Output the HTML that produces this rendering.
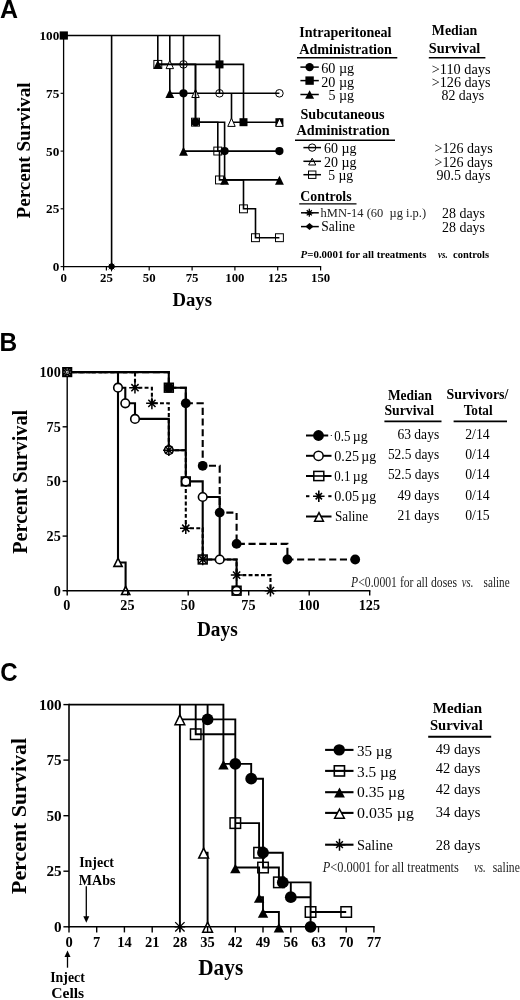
<!DOCTYPE html>
<html><head><meta charset="utf-8"><title>Figure</title>
<style>html,body{margin:0;padding:0;background:#fff}svg{display:block}</style></head><body>
<svg width='520' height='1000' viewBox='0 0 520 1000' font-family='"Liberation Serif", "DejaVu Serif", serif'>
<rect width="520" height="1000" fill="#fff"/>
<text transform='translate(-0.1,17.9) scale(1.02,1.07)' font-size='24.5' font-weight='bold' font-family='"Liberation Sans", "DejaVu Sans", sans-serif'>A</text>
<line x1="63.6" y1="34.8" x2="63.6" y2="267.2" stroke="#000" stroke-width="1.3"/>
<line x1="63.0" y1="266.6" x2="321.2" y2="266.6" stroke="#000" stroke-width="1.3"/>
<line x1="60.6" y1="266.6" x2="63.6" y2="266.6" stroke="#000" stroke-width="1.1"/>
<text x="59.3" y="271.0" font-size="13.2" font-weight="bold" text-anchor="end">0</text>
<line x1="60.6" y1="208.8" x2="63.6" y2="208.8" stroke="#000" stroke-width="1.1"/>
<text x="59.3" y="213.2" font-size="13.2" font-weight="bold" text-anchor="end">25</text>
<line x1="60.6" y1="151.1" x2="63.6" y2="151.1" stroke="#000" stroke-width="1.1"/>
<text x="59.3" y="155.5" font-size="13.2" font-weight="bold" text-anchor="end">50</text>
<line x1="60.6" y1="93.3" x2="63.6" y2="93.3" stroke="#000" stroke-width="1.1"/>
<text x="59.3" y="97.7" font-size="13.2" font-weight="bold" text-anchor="end">75</text>
<line x1="60.6" y1="35.5" x2="63.6" y2="35.5" stroke="#000" stroke-width="1.1"/>
<text x="59.3" y="39.9" font-size="13.2" font-weight="bold" text-anchor="end">100</text>
<line x1="63.6" y1="266.6" x2="63.6" y2="270.4" stroke="#000" stroke-width="1.2"/>
<text x="63.6" y="281.7" font-size="12.8" font-weight="bold" text-anchor="middle">0</text>
<line x1="106.4" y1="266.6" x2="106.4" y2="270.4" stroke="#000" stroke-width="1.2"/>
<text x="106.4" y="281.7" font-size="12.8" font-weight="bold" text-anchor="middle">25</text>
<line x1="149.2" y1="266.6" x2="149.2" y2="270.4" stroke="#000" stroke-width="1.2"/>
<text x="149.2" y="281.7" font-size="12.8" font-weight="bold" text-anchor="middle">50</text>
<line x1="192.1" y1="266.6" x2="192.1" y2="270.4" stroke="#000" stroke-width="1.2"/>
<text x="192.1" y="281.7" font-size="12.8" font-weight="bold" text-anchor="middle">75</text>
<line x1="234.9" y1="266.6" x2="234.9" y2="270.4" stroke="#000" stroke-width="1.2"/>
<text x="234.9" y="281.7" font-size="12.8" font-weight="bold" text-anchor="middle">100</text>
<line x1="277.7" y1="266.6" x2="277.7" y2="270.4" stroke="#000" stroke-width="1.2"/>
<text x="277.7" y="281.7" font-size="12.8" font-weight="bold" text-anchor="middle">125</text>
<line x1="320.6" y1="266.6" x2="320.6" y2="270.4" stroke="#000" stroke-width="1.2"/>
<text x="320.6" y="281.7" font-size="12.8" font-weight="bold" text-anchor="middle">150</text>
<text x="192.2" y="306.0" font-size="19.6" font-weight="bold" text-anchor="middle" textLength="39.6" lengthAdjust="spacingAndGlyphs">Days</text>
<text transform="translate(30.3,150.5) rotate(-90)" font-size="19.8" font-weight="bold" text-anchor="middle" textLength="136" lengthAdjust="spacingAndGlyphs">Percent Survival</text>
<path d="M63.6 35.5 L183.5 35.5 L183.5 93.3 L195.5 93.3 L195.5 122.2 L224.6 122.2 L224.6 151.1 L279.4 151.1M63.6 35.5 L219.5 35.5 L219.5 64.4 L243.5 64.4 L243.5 122.2 L279.4 122.2M63.6 35.5 L157.8 35.5 L157.8 64.4 L169.8 64.4 L169.8 93.3 L183.5 93.3 L183.5 151.1 L224.6 151.1 L224.6 179.9 L279.4 179.9M63.6 35.5 L183.5 35.5 L183.5 64.4 L219.5 64.4 L219.5 93.3 L279.4 93.3M63.6 35.5 L169.8 35.5 L169.8 64.4 L195.5 64.4 L195.5 93.3 L231.5 93.3 L231.5 122.2 L279.4 122.2M63.6 35.5 L111.6 35.5 L111.6 266.6M63.6 35.5 L111.6 35.5 L111.6 266.6" fill="none" stroke="#000" stroke-width="1.6" stroke-linejoin="miter"/>
<rect x="215.5" y="60.4" width="8.0" height="8.0" fill="#000"/>
<rect x="239.5" y="118.2" width="8.0" height="8.0" fill="#000"/>
<rect x="275.4" y="118.2" width="8.0" height="8.0" fill="#000"/>
<polygon points="169.81,60.45 173.53,68.64 166.08,68.64" fill="#fff" stroke="#000" stroke-width="1.0" stroke-linejoin="miter"/>
<polygon points="195.50,89.33 199.22,97.53 191.78,97.53" fill="#fff" stroke="#000" stroke-width="1.0" stroke-linejoin="miter"/>
<polygon points="231.47,118.22 235.20,126.41 227.75,126.41" fill="#fff" stroke="#000" stroke-width="1.0" stroke-linejoin="miter"/>
<polygon points="279.44,118.22 283.16,126.41 275.71,126.41" fill="#fff" stroke="#000" stroke-width="1.0" stroke-linejoin="miter"/>
<path d="M157.8 64.4 L195.5 64.4 L195.5 122.2 L217.8 122.2 L217.8 151.1 L219.5 151.1 L219.5 179.9 L243.5 179.9 L243.5 208.8 L255.5 208.8 L255.5 237.7 L279.4 237.7" fill="none" stroke="#000" stroke-width="1.6" stroke-linejoin="miter"/>
<circle cx="183.5" cy="93.3" r="4.1" fill="#000"/>
<circle cx="195.5" cy="122.2" r="4.1" fill="#000"/>
<circle cx="224.6" cy="151.1" r="4.1" fill="#000"/>
<circle cx="279.4" cy="151.1" r="4.1" fill="#000"/>
<polygon points="157.81,60.09 162.26,69.09 153.37,69.09" fill="#000"/>
<polygon points="169.81,88.98 174.26,97.98 165.36,97.98" fill="#000"/>
<polygon points="183.51,146.75 187.96,155.75 179.06,155.75" fill="#000"/>
<polygon points="224.62,175.64 229.07,184.64 220.17,184.64" fill="#000"/>
<polygon points="279.44,175.64 283.89,184.64 274.99,184.64" fill="#000"/>
<circle cx="183.5" cy="64.4" r="3.80" fill="none" stroke="#000" stroke-width="1.0"/>
<circle cx="219.5" cy="93.3" r="3.80" fill="none" stroke="#000" stroke-width="1.0"/>
<circle cx="279.4" cy="93.3" r="3.80" fill="none" stroke="#000" stroke-width="1.0"/>
<rect x="153.87" y="60.44" width="7.90" height="7.90" fill="none" stroke="#000" stroke-width="1.0"/>
<rect x="191.55" y="118.21" width="7.90" height="7.90" fill="none" stroke="#000" stroke-width="1.0"/>
<rect x="213.82" y="147.10" width="7.90" height="7.90" fill="none" stroke="#000" stroke-width="1.0"/>
<rect x="215.53" y="175.99" width="7.90" height="7.90" fill="none" stroke="#000" stroke-width="1.0"/>
<rect x="239.52" y="204.88" width="7.90" height="7.90" fill="none" stroke="#000" stroke-width="1.0"/>
<rect x="251.51" y="233.76" width="7.90" height="7.90" fill="none" stroke="#000" stroke-width="1.0"/>
<rect x="275.49" y="233.76" width="7.90" height="7.90" fill="none" stroke="#000" stroke-width="1.0"/>
<path d="M106.76 266.60L116.36 266.60M108.85 263.88L114.28 269.32M111.56 261.80L111.56 271.40M114.28 263.88L108.85 269.32" stroke="#000" stroke-width="1.0" fill="none"/>
<polygon points="111.6,262.6 115.6,266.6 111.6,270.6 107.6,266.6" fill="#000"/>
<rect x="59.7" y="31.4" width="8.2" height="8.2" fill="#000"/>
<text x="299.2" y="36.9" font-size="14" font-weight="bold" textLength="92.3" lengthAdjust="spacingAndGlyphs">Intraperitoneal</text>
<text x="299.2" y="53.5" font-size="14" font-weight="bold" textLength="92.8" lengthAdjust="spacingAndGlyphs">Administration</text>
<line x1="297.0" y1="57.7" x2="397.3" y2="57.7" stroke="#000" stroke-width="1.4"/>
<text x="431.8" y="35.3" font-size="14" font-weight="bold" textLength="45.5" lengthAdjust="spacingAndGlyphs">Median</text>
<text x="428.8" y="53.0" font-size="14" font-weight="bold" textLength="51.5" lengthAdjust="spacingAndGlyphs">Survival</text>
<line x1="428.8" y1="57.7" x2="485.4" y2="57.7" stroke="#000" stroke-width="1.4"/>
<line x1="300.4" y1="67.1" x2="318.8" y2="67.1" stroke="#000" stroke-width="1.5"/>
<circle cx="309.6" cy="67.1" r="4.2" fill="#000"/>
<text x="321.2" y="72.9" font-size="14" textLength="33.0" lengthAdjust="spacingAndGlyphs">60 µg</text>
<text x="431.8" y="73.6" font-size="14" textLength="58.7" lengthAdjust="spacingAndGlyphs">&gt;110 days</text>
<line x1="300.4" y1="80.6" x2="318.8" y2="80.6" stroke="#000" stroke-width="1.5"/>
<rect x="305.4" y="76.4" width="8.4" height="8.4" fill="#000"/>
<text x="321.2" y="86.8" font-size="14" textLength="33.0" lengthAdjust="spacingAndGlyphs">20 µg</text>
<text x="431.8" y="87.0" font-size="14" textLength="58.7" lengthAdjust="spacingAndGlyphs">&gt;126 days</text>
<line x1="300.4" y1="94.5" x2="318.8" y2="94.5" stroke="#000" stroke-width="1.5"/>
<polygon points="309.60,90.20 314.10,98.80 305.10,98.80" fill="#000"/>
<text x="328.5" y="99.7" font-size="14" textLength="25.6" lengthAdjust="spacingAndGlyphs">5 µg</text>
<text x="441.5" y="99.6" font-size="14" textLength="42.7" lengthAdjust="spacingAndGlyphs">82 days</text>
<text x="300.4" y="118.5" font-size="14" font-weight="bold" textLength="84.2" lengthAdjust="spacingAndGlyphs">Subcutaneous</text>
<text x="296.5" y="135.0" font-size="14" font-weight="bold" textLength="93.2" lengthAdjust="spacingAndGlyphs">Administration</text>
<line x1="295.0" y1="140.2" x2="395.0" y2="140.2" stroke="#000" stroke-width="1.4"/>
<line x1="303.4" y1="147.6" x2="321.0" y2="147.6" stroke="#000" stroke-width="1.5"/>
<circle cx="312.2" cy="147.6" r="3.70" fill="none" stroke="#000" stroke-width="1.0"/>
<text x="324.0" y="152.9" font-size="14" textLength="32.5" lengthAdjust="spacingAndGlyphs">60 µg</text>
<text x="434.6" y="152.9" font-size="14" textLength="58.2" lengthAdjust="spacingAndGlyphs">&gt;126 days</text>
<line x1="303.4" y1="161.3" x2="321.0" y2="161.3" stroke="#000" stroke-width="1.5"/>
<polygon points="312.20,158.18 315.77,165.00 308.63,165.00" fill="none" stroke="#000" stroke-width="1.0" stroke-linejoin="miter"/>
<text x="324.0" y="166.9" font-size="14" textLength="32.5" lengthAdjust="spacingAndGlyphs">20 µg</text>
<text x="434.6" y="166.9" font-size="14" textLength="58.2" lengthAdjust="spacingAndGlyphs">&gt;126 days</text>
<line x1="303.4" y1="174.7" x2="321.0" y2="174.7" stroke="#000" stroke-width="1.5"/>
<rect x="308.50" y="171.00" width="7.40" height="7.40" fill="none" stroke="#000" stroke-width="1.0"/>
<text x="328.2" y="179.8" font-size="14" textLength="25.0" lengthAdjust="spacingAndGlyphs">5 µg</text>
<text x="436.5" y="180.3" font-size="14" textLength="54.0" lengthAdjust="spacingAndGlyphs">90.5 days</text>
<text x="300.3" y="201.0" font-size="14" font-weight="bold" textLength="51.3" lengthAdjust="spacingAndGlyphs">Controls</text>
<line x1="299.2" y1="203.9" x2="356.5" y2="203.9" stroke="#000" stroke-width="1.4"/>
<line x1="301.0" y1="212.8" x2="318.8" y2="212.8" stroke="#000" stroke-width="1.5"/>
<path d="M305.30 212.80L313.30 212.80M306.75 210.25L311.85 215.35M309.30 208.80L309.30 216.80M311.85 210.25L306.75 215.35" stroke="#000" stroke-width="1.3" fill="none"/>
<text x="320.6" y="217.0" font-size="12" textLength="105.5" lengthAdjust="spacingAndGlyphs" fill="#222" xml:space="preserve">hMN-14 (60  µg i.p.)</text>
<text x="442.0" y="218.0" font-size="14" textLength="43.0" lengthAdjust="spacingAndGlyphs">28 days</text>
<line x1="301.0" y1="226.6" x2="318.8" y2="226.6" stroke="#000" stroke-width="1.5"/>
<polygon points="309.5,223.1 313.6,226.6 309.5,230.1 305.4,226.6" fill="#000"/>
<text x="321.2" y="230.6" font-size="14.2" textLength="33.7" lengthAdjust="spacingAndGlyphs">Saline</text>
<text x="442.0" y="231.9" font-size="14" textLength="43.0" lengthAdjust="spacingAndGlyphs">28 days</text>
<text x="300.6" y="258.1" font-size="10.8" font-weight="bold" textLength="126" lengthAdjust="spacingAndGlyphs"><tspan font-style="italic">P</tspan>=0.0001 for all treatments</text>
<text x="438.0" y="258.1" font-size="10.8" font-weight="bold" font-style="italic" textLength="9.6" lengthAdjust="spacingAndGlyphs">vs.</text>
<text x="453.0" y="258.1" font-size="10.8" font-weight="bold" textLength="36.0" lengthAdjust="spacingAndGlyphs">controls</text>
<text transform='translate(-0.5,350.85) scale(1.0,1.053)' font-size='24.5' font-weight='bold' font-family='"Liberation Sans", "DejaVu Sans", sans-serif'>B</text>
<path d="M67.2 372.1 L168.8 372.1 L168.8 387.7 L185.8 387.7 L185.8 403.3 L202.7 403.3 L202.7 465.8 L219.7 465.8 L219.7 512.6 L236.6 512.6 L236.6 543.9 L287.4 543.9 L287.4 559.5 L355.2 559.5" fill="none" stroke="#000" stroke-width="2.1" stroke-linejoin="miter" stroke-dasharray="7.1 3.6"/>
<path d="M67.2 372.1 L135.0 372.1 L135.0 387.7 L151.9 387.7 L151.9 403.3 L168.8 403.3 L168.8 450.2 L185.8 450.2 L185.8 528.2 L202.7 528.2 L202.7 559.5 L236.6 559.5 L236.6 575.1 L270.5 575.1 L270.5 590.7" fill="none" stroke="#000" stroke-width="2.1" stroke-linejoin="miter" stroke-dasharray="3.9 2.3"/>
<path d="M67.2 372.1 L118.0 372.1 L118.0 387.7 L125.3 387.7 L125.3 403.3 L135.0 403.3 L135.0 418.9 L168.8 418.9 L168.8 450.2 L185.8 450.2 L185.8 481.4 L202.7 481.4 L202.7 497.0 L219.7 497.0 L219.7 559.5 L236.6 559.5 L236.6 590.7M67.2 372.1 L168.8 372.1 L168.8 387.7 L185.8 387.7 L185.8 481.4 L202.7 481.4 L202.7 559.5 L236.6 559.5 L236.6 590.7M67.2 372.1 L118.0 372.1 L118.0 562.5 L125.6 562.5 L125.6 590.7" fill="none" stroke="#000" stroke-width="2.1" stroke-linejoin="miter"/>
<circle cx="168.8" cy="387.7" r="4.9" fill="#000"/>
<circle cx="185.8" cy="403.3" r="4.9" fill="#000"/>
<circle cx="202.7" cy="465.8" r="4.9" fill="#000"/>
<circle cx="219.7" cy="512.6" r="4.9" fill="#000"/>
<circle cx="236.6" cy="543.9" r="4.9" fill="#000"/>
<circle cx="287.4" cy="559.5" r="4.9" fill="#000"/>
<circle cx="355.2" cy="559.5" r="4.9" fill="#000"/>
<circle cx="118.0" cy="387.7" r="4.30" fill="#fff" stroke="#000" stroke-width="1.6"/>
<circle cx="125.3" cy="403.3" r="4.30" fill="#fff" stroke="#000" stroke-width="1.6"/>
<circle cx="135.0" cy="418.9" r="4.30" fill="#fff" stroke="#000" stroke-width="1.6"/>
<circle cx="168.8" cy="450.2" r="4.30" fill="#fff" stroke="#000" stroke-width="1.6"/>
<circle cx="185.8" cy="481.4" r="4.30" fill="#fff" stroke="#000" stroke-width="1.6"/>
<circle cx="202.7" cy="497.0" r="4.30" fill="#fff" stroke="#000" stroke-width="1.6"/>
<circle cx="219.7" cy="559.5" r="4.30" fill="#fff" stroke="#000" stroke-width="1.6"/>
<circle cx="236.6" cy="590.7" r="4.30" fill="#fff" stroke="#000" stroke-width="1.6"/>
<rect x="164.44" y="383.31" width="8.80" height="8.80" fill="none" stroke="#000" stroke-width="1.6"/>
<rect x="181.38" y="477.00" width="8.80" height="8.80" fill="none" stroke="#000" stroke-width="1.6"/>
<rect x="198.32" y="555.07" width="8.80" height="8.80" fill="none" stroke="#000" stroke-width="1.6"/>
<rect x="232.20" y="586.30" width="8.80" height="8.80" fill="none" stroke="#000" stroke-width="1.6"/>
<path d="M129.16 387.71L140.76 387.71M131.35 384.11L138.57 391.32M134.96 381.91L134.96 393.51M138.57 384.11L131.35 391.32" stroke="#000" stroke-width="1.5" fill="none"/>
<path d="M146.10 403.33L157.70 403.33M148.29 399.72L155.51 406.94M151.90 397.53L151.90 409.13M155.51 399.72L148.29 406.94" stroke="#000" stroke-width="1.5" fill="none"/>
<path d="M163.04 450.17L174.64 450.17M165.23 446.56L172.45 453.78M168.84 444.37L168.84 455.97M172.45 446.56L165.23 453.78" stroke="#000" stroke-width="1.5" fill="none"/>
<path d="M179.98 528.24L191.58 528.24M182.17 524.63L189.39 531.85M185.78 522.44L185.78 534.04M189.39 524.63L182.17 531.85" stroke="#000" stroke-width="1.5" fill="none"/>
<path d="M196.92 559.47L208.52 559.47M199.11 555.86L206.33 563.08M202.72 553.67L202.72 565.27M206.33 555.86L199.11 563.08" stroke="#000" stroke-width="1.5" fill="none"/>
<path d="M230.80 575.09L242.40 575.09M232.99 571.48L240.21 578.69M236.60 569.29L236.60 580.89M240.21 571.48L232.99 578.69" stroke="#000" stroke-width="1.5" fill="none"/>
<path d="M264.68 590.70L276.28 590.70M266.87 587.09L274.09 594.31M270.48 584.90L270.48 596.50M274.09 587.09L266.87 594.31" stroke="#000" stroke-width="1.5" fill="none"/>
<polygon points="118.02,558.23 122.12,566.35 113.92,566.35" fill="#fff" stroke="#000" stroke-width="1.6" stroke-linejoin="miter"/>
<polygon points="125.64,586.43 129.74,594.55 121.54,594.55" fill="#fff" stroke="#000" stroke-width="1.6" stroke-linejoin="miter"/>
<line x1="67.2" y1="371.3" x2="67.2" y2="591.4" stroke="#000" stroke-width="1.4"/>
<line x1="66.5" y1="590.7" x2="370.4" y2="590.7" stroke="#000" stroke-width="1.4"/>
<line x1="62.6" y1="590.7" x2="67.2" y2="590.7" stroke="#000" stroke-width="1.4"/>
<text x="60.8" y="595.5" font-size="14.2" font-weight="bold" text-anchor="end">0</text>
<line x1="62.6" y1="536.1" x2="67.2" y2="536.1" stroke="#000" stroke-width="1.4"/>
<text x="60.8" y="540.9" font-size="14.2" font-weight="bold" text-anchor="end">25</text>
<line x1="62.6" y1="481.4" x2="67.2" y2="481.4" stroke="#000" stroke-width="1.4"/>
<text x="60.8" y="486.2" font-size="14.2" font-weight="bold" text-anchor="end">50</text>
<line x1="62.6" y1="426.8" x2="67.2" y2="426.8" stroke="#000" stroke-width="1.4"/>
<text x="60.8" y="431.6" font-size="14.2" font-weight="bold" text-anchor="end">75</text>
<line x1="62.6" y1="372.1" x2="67.2" y2="372.1" stroke="#000" stroke-width="1.4"/>
<text x="60.8" y="376.9" font-size="14.2" font-weight="bold" text-anchor="end">100</text>
<line x1="67.2" y1="590.7" x2="67.2" y2="595.5" stroke="#000" stroke-width="1.4"/>
<text x="66.9" y="609.8" font-size="14.2" font-weight="bold" text-anchor="middle">0</text>
<line x1="127.7" y1="590.7" x2="127.7" y2="595.5" stroke="#000" stroke-width="1.4"/>
<text x="127.4" y="609.8" font-size="14.2" font-weight="bold" text-anchor="middle">25</text>
<line x1="188.2" y1="590.7" x2="188.2" y2="595.5" stroke="#000" stroke-width="1.4"/>
<text x="187.9" y="609.8" font-size="14.2" font-weight="bold" text-anchor="middle">50</text>
<line x1="248.7" y1="590.7" x2="248.7" y2="595.5" stroke="#000" stroke-width="1.4"/>
<text x="248.4" y="609.8" font-size="14.2" font-weight="bold" text-anchor="middle">75</text>
<line x1="309.2" y1="590.7" x2="309.2" y2="595.5" stroke="#000" stroke-width="1.4"/>
<text x="308.9" y="609.8" font-size="14.2" font-weight="bold" text-anchor="middle">100</text>
<line x1="369.7" y1="590.7" x2="369.7" y2="595.5" stroke="#000" stroke-width="1.4"/>
<text x="369.4" y="609.8" font-size="14.2" font-weight="bold" text-anchor="middle">125</text>
<rect x="62.1" y="367.0" width="10.2" height="10.2" fill="#000"/>
<path d="M63.6 372.1h7.2M67.2 368.5v7.2M64.6 369.5l5.2 5.2M64.6 374.7l5.2 -5.2" fill="none" stroke="#fff" stroke-width="0.8" stroke-dasharray="1.1 1.1"/>
<text x="217.3" y="635.6" font-size="20.4" font-weight="bold" text-anchor="middle" textLength="40.8" lengthAdjust="spacingAndGlyphs">Days</text>
<text transform="translate(27.2,481.8) rotate(-90)" font-size="20.8" font-weight="bold" text-anchor="middle" textLength="144" lengthAdjust="spacingAndGlyphs">Percent Survival</text>
<text x="387.9" y="399.8" font-size="15.4" font-weight="bold" textLength="44.1" lengthAdjust="spacingAndGlyphs">Median</text>
<text x="384.4" y="415.4" font-size="15.4" font-weight="bold" textLength="49.6" lengthAdjust="spacingAndGlyphs">Survival</text>
<line x1="384.4" y1="421.3" x2="441.5" y2="421.3" stroke="#000" stroke-width="1.8"/>
<text x="446.4" y="399.0" font-size="15.4" font-weight="bold" textLength="62.0" lengthAdjust="spacingAndGlyphs">Survivors/</text>
<text x="463.7" y="415.4" font-size="15.4" font-weight="bold" textLength="28.9" lengthAdjust="spacingAndGlyphs">Total</text>
<line x1="453.6" y1="421.3" x2="507.0" y2="421.3" stroke="#000" stroke-width="1.8"/>
<line x1="306.0" y1="435.5" x2="328.2" y2="435.5" stroke="#000" stroke-width="2.0"/>
<line x1="330.8" y1="435.5" x2="331.8" y2="435.5" stroke="#000" stroke-width="1.2"/>
<circle cx="318.5" cy="435.5" r="5.4" fill="#000"/>
<text x="334.3" y="440.6" font-size="15.0" textLength="16.2" lengthAdjust="spacingAndGlyphs">0.5</text>
<text x="352.7" y="440.6" font-size="15.0" textLength="14.9" lengthAdjust="spacingAndGlyphs">µg</text>
<text x="397.4" y="439.0" font-size="15.0" textLength="41.8" lengthAdjust="spacingAndGlyphs">63 days</text>
<text x="465.2" y="439.0" font-size="15.0" textLength="24.5" lengthAdjust="spacingAndGlyphs">2/14</text>
<line x1="306.0" y1="455.8" x2="331.5" y2="455.8" stroke="#000" stroke-width="2.0"/>
<circle cx="318.5" cy="455.8" r="4.65" fill="#fff" stroke="#000" stroke-width="1.5"/>
<text x="334.3" y="460.8" font-size="15.0" textLength="24.7" lengthAdjust="spacingAndGlyphs">0.25</text>
<text x="361.2" y="460.8" font-size="15.0" textLength="14.9" lengthAdjust="spacingAndGlyphs">µg</text>
<text x="387.9" y="459.2" font-size="15.0" textLength="51.4" lengthAdjust="spacingAndGlyphs">52.5 days</text>
<text x="465.2" y="459.2" font-size="15.0" textLength="24.5" lengthAdjust="spacingAndGlyphs">0/14</text>
<line x1="306.0" y1="476.0" x2="331.5" y2="476.0" stroke="#000" stroke-width="2.0"/>
<rect x="313.8" y="471.4" width="10.0" height="9.2" fill="#fff" stroke="#000" stroke-width="1.5"/>
<line x1="313.8" y1="476.0" x2="323.8" y2="476.0" stroke="#000" stroke-width="1.6"/>
<text x="334.3" y="481.2" font-size="15.0" textLength="16.2" lengthAdjust="spacingAndGlyphs">0.1</text>
<text x="352.7" y="481.2" font-size="15.0" textLength="14.9" lengthAdjust="spacingAndGlyphs">µg</text>
<text x="387.9" y="479.4" font-size="15.0" textLength="51.4" lengthAdjust="spacingAndGlyphs">52.5 days</text>
<text x="465.2" y="479.4" font-size="15.0" textLength="24.5" lengthAdjust="spacingAndGlyphs">0/14</text>
<line x1="306.0" y1="496.2" x2="309.4" y2="496.2" stroke="#000" stroke-width="2.0"/>
<line x1="328.3" y1="496.2" x2="331.5" y2="496.2" stroke="#000" stroke-width="2.0"/>
<path d="M313.05 496.20L324.55 496.20M315.63 493.03L321.97 499.37M318.80 490.45L318.80 501.95M321.97 493.03L315.63 499.37" stroke="#000" stroke-width="1.6" fill="none"/>
<text x="334.3" y="501.4" font-size="15.0" textLength="24.7" lengthAdjust="spacingAndGlyphs">0.05</text>
<text x="361.2" y="501.4" font-size="15.0" textLength="14.9" lengthAdjust="spacingAndGlyphs">µg</text>
<text x="397.4" y="499.8" font-size="15.0" textLength="41.8" lengthAdjust="spacingAndGlyphs">49 days</text>
<text x="465.2" y="499.8" font-size="15.0" textLength="24.5" lengthAdjust="spacingAndGlyphs">0/14</text>
<line x1="306.0" y1="516.5" x2="331.5" y2="516.5" stroke="#000" stroke-width="2.0"/>
<polygon points="319.00,512.64 323.42,521.25 314.58,521.25" fill="#fff" stroke="#000" stroke-width="1.5" stroke-linejoin="miter"/>
<text x="335.0" y="520.6" font-size="15.0" textLength="33.0" lengthAdjust="spacingAndGlyphs">Saline</text>
<text x="397.4" y="520.3" font-size="15.0" textLength="41.8" lengthAdjust="spacingAndGlyphs">21 days</text>
<text x="465.2" y="520.3" font-size="15.0" textLength="24.5" lengthAdjust="spacingAndGlyphs">0/15</text>
<text x="351.1" y="587.1" font-size="13.8" fill="#222" textLength="105.9" lengthAdjust="spacingAndGlyphs"><tspan font-style="italic">P</tspan>&lt;0.0001 for all doses</text>
<text x="461.8" y="587.1" font-size="13.8" font-style="italic" textLength="11.5" lengthAdjust="spacingAndGlyphs" fill="#222">vs.</text>
<text x="483.6" y="587.1" font-size="13.8" textLength="26.0" lengthAdjust="spacingAndGlyphs" fill="#222">saline</text>
<text transform='translate(0.3,681.45) scale(0.98,1.085)' font-size='24.5' font-weight='bold' font-family='"Liberation Sans", "DejaVu Sans", sans-serif'>C</text>
<path d="M69.0 704.6 L207.6 704.6 L207.6 719.4 L235.3 719.4 L235.3 763.9 L251.2 763.9 L251.2 778.7 L263.0 778.7 L263.0 852.7 L282.8 852.7 L282.8 882.4 L290.8 882.4 L290.8 897.2 L310.6 897.2 L310.6 926.8M69.0 704.6 L195.7 704.6 L195.7 734.2 L235.3 734.2 L235.3 823.1 L259.1 823.1 L259.1 852.7 L263.0 852.7 L263.0 867.5 L278.9 867.5 L278.9 882.4 L310.6 882.4 L310.6 912.0 L346.2 912.0M69.0 704.6 L223.4 704.6 L223.4 763.9 L235.3 763.9 L235.3 867.5 L259.1 867.5 L259.1 897.2 L263.0 897.2 L263.0 912.0 L278.9 912.0 L278.9 926.8M69.0 704.6 L179.9 704.6 L179.9 719.4 L203.6 719.4 L203.6 852.7 L207.6 852.7 L207.6 926.8M69.0 704.6 L179.9 704.6 L179.9 926.8" fill="none" stroke="#000" stroke-width="1.9" stroke-linejoin="miter"/>
<rect x="190.47" y="728.98" width="10.50" height="10.50" fill="none" stroke="#000" stroke-width="1.5"/>
<rect x="230.07" y="817.86" width="10.50" height="10.50" fill="none" stroke="#000" stroke-width="1.5"/>
<rect x="253.83" y="847.48" width="10.50" height="10.50" fill="none" stroke="#000" stroke-width="1.5"/>
<rect x="257.79" y="862.30" width="10.50" height="10.50" fill="none" stroke="#000" stroke-width="1.5"/>
<rect x="273.63" y="877.11" width="10.50" height="10.50" fill="none" stroke="#000" stroke-width="1.5"/>
<rect x="305.31" y="906.74" width="10.50" height="10.50" fill="none" stroke="#000" stroke-width="1.5"/>
<rect x="340.95" y="906.74" width="10.50" height="10.50" fill="none" stroke="#000" stroke-width="1.5"/>
<polygon points="179.88,714.81 184.78,724.76 174.98,724.76" fill="#fff" stroke="#000" stroke-width="1.5" stroke-linejoin="miter"/>
<polygon points="203.64,848.13 208.54,858.08 198.74,858.08" fill="#fff" stroke="#000" stroke-width="1.5" stroke-linejoin="miter"/>
<polygon points="207.60,922.20 212.50,932.15 202.70,932.15" fill="#fff" stroke="#000" stroke-width="1.5" stroke-linejoin="miter"/>
<circle cx="207.6" cy="719.4" r="5.9" fill="#000"/>
<circle cx="235.3" cy="763.9" r="5.9" fill="#000"/>
<circle cx="251.2" cy="778.7" r="5.9" fill="#000"/>
<circle cx="263.0" cy="852.7" r="5.9" fill="#000"/>
<circle cx="282.8" cy="882.4" r="5.9" fill="#000"/>
<circle cx="290.8" cy="897.2" r="5.9" fill="#000"/>
<circle cx="310.6" cy="926.8" r="5.9" fill="#000"/>
<polygon points="223.44,759.95 228.64,769.55 218.24,769.55" fill="#000"/>
<polygon points="235.32,863.65 240.52,873.25 230.12,873.25" fill="#000"/>
<polygon points="259.08,893.27 264.28,902.87 253.88,902.87" fill="#000"/>
<polygon points="263.04,908.09 268.24,917.69 257.84,917.69" fill="#000"/>
<polygon points="278.88,922.90 284.08,932.50 273.68,932.50" fill="#000"/>
<path d="M174.58 926.80L185.18 926.80M175.20 922.12L184.56 931.48M179.88 921.50L179.88 932.10M184.56 922.12L175.20 931.48" stroke="#000" stroke-width="1.3" fill="none"/>
<line x1="69.0" y1="703.7" x2="69.0" y2="927.6" stroke="#000" stroke-width="1.6"/>
<line x1="68.2" y1="926.8" x2="374.7" y2="926.8" stroke="#000" stroke-width="1.6"/>
<line x1="63.4" y1="926.8" x2="69.0" y2="926.8" stroke="#000" stroke-width="1.4"/>
<text x="61.7" y="931.9" font-size="15.2" font-weight="bold" text-anchor="end">0</text>
<line x1="63.4" y1="871.2" x2="69.0" y2="871.2" stroke="#000" stroke-width="1.4"/>
<text x="61.7" y="876.4" font-size="15.2" font-weight="bold" text-anchor="end">25</text>
<line x1="63.4" y1="815.7" x2="69.0" y2="815.7" stroke="#000" stroke-width="1.4"/>
<text x="61.7" y="820.8" font-size="15.2" font-weight="bold" text-anchor="end">50</text>
<line x1="63.4" y1="760.1" x2="69.0" y2="760.1" stroke="#000" stroke-width="1.4"/>
<text x="61.7" y="765.2" font-size="15.2" font-weight="bold" text-anchor="end">75</text>
<line x1="63.4" y1="704.6" x2="69.0" y2="704.6" stroke="#000" stroke-width="1.4"/>
<text x="61.7" y="709.7" font-size="15.2" font-weight="bold" text-anchor="end">100</text>
<line x1="69.0" y1="926.8" x2="69.0" y2="932.4" stroke="#000" stroke-width="1.4"/>
<text x="69.0" y="946.6" font-size="14.5" font-weight="bold" text-anchor="middle">0</text>
<line x1="96.7" y1="926.8" x2="96.7" y2="932.4" stroke="#000" stroke-width="1.4"/>
<text x="96.7" y="946.6" font-size="14.5" font-weight="bold" text-anchor="middle">7</text>
<line x1="124.4" y1="926.8" x2="124.4" y2="932.4" stroke="#000" stroke-width="1.4"/>
<text x="124.4" y="946.6" font-size="14.5" font-weight="bold" text-anchor="middle">14</text>
<line x1="152.2" y1="926.8" x2="152.2" y2="932.4" stroke="#000" stroke-width="1.4"/>
<text x="152.2" y="946.6" font-size="14.5" font-weight="bold" text-anchor="middle">21</text>
<line x1="179.9" y1="926.8" x2="179.9" y2="932.4" stroke="#000" stroke-width="1.4"/>
<text x="179.9" y="946.6" font-size="14.5" font-weight="bold" text-anchor="middle">28</text>
<line x1="207.6" y1="926.8" x2="207.6" y2="932.4" stroke="#000" stroke-width="1.4"/>
<text x="207.6" y="946.6" font-size="14.5" font-weight="bold" text-anchor="middle">35</text>
<line x1="235.3" y1="926.8" x2="235.3" y2="932.4" stroke="#000" stroke-width="1.4"/>
<text x="235.3" y="946.6" font-size="14.5" font-weight="bold" text-anchor="middle">42</text>
<line x1="263.0" y1="926.8" x2="263.0" y2="932.4" stroke="#000" stroke-width="1.4"/>
<text x="263.0" y="946.6" font-size="14.5" font-weight="bold" text-anchor="middle">49</text>
<line x1="290.8" y1="926.8" x2="290.8" y2="932.4" stroke="#000" stroke-width="1.4"/>
<text x="290.8" y="946.6" font-size="14.5" font-weight="bold" text-anchor="middle">56</text>
<line x1="318.5" y1="926.8" x2="318.5" y2="932.4" stroke="#000" stroke-width="1.4"/>
<text x="318.5" y="946.6" font-size="14.5" font-weight="bold" text-anchor="middle">63</text>
<line x1="346.2" y1="926.8" x2="346.2" y2="932.4" stroke="#000" stroke-width="1.4"/>
<text x="346.2" y="946.6" font-size="14.5" font-weight="bold" text-anchor="middle">70</text>
<line x1="373.9" y1="926.8" x2="373.9" y2="932.4" stroke="#000" stroke-width="1.4"/>
<text x="373.9" y="946.6" font-size="14.5" font-weight="bold" text-anchor="middle">77</text>
<text x="220.7" y="975.4" font-size="22.6" font-weight="bold" text-anchor="middle" textLength="45.0" lengthAdjust="spacingAndGlyphs">Days</text>
<text transform="translate(26.4,816) rotate(-90)" font-size="21" font-weight="bold" text-anchor="middle" textLength="156" lengthAdjust="spacingAndGlyphs">Percent Survival</text>
<text x="79.2" y="866.5" font-size="14" font-weight="bold" textLength="34.8" lengthAdjust="spacingAndGlyphs">Inject</text>
<text x="78.8" y="884.6" font-size="14" font-weight="bold" textLength="36.6" lengthAdjust="spacingAndGlyphs">MAbs</text>
<line x1="86.3" y1="886.2" x2="86.3" y2="917.8" stroke="#000" stroke-width="1.3"/>
<polygon points="83.3,916.3 89.3,916.3 86.3,922.8" fill="#000"/>
<line x1="67.5" y1="967.7" x2="67.5" y2="955.4" stroke="#000" stroke-width="1.3"/>
<polygon points="64.5,956.9 70.5,956.9 67.5,950.4" fill="#000"/>
<text x="50.2" y="981.8" font-size="14.6" font-weight="bold" textLength="34.6" lengthAdjust="spacingAndGlyphs">Inject</text>
<text x="51.2" y="998.0" font-size="14.6" font-weight="bold" textLength="33.0" lengthAdjust="spacingAndGlyphs">Cells</text>
<text x="432.8" y="712.6" font-size="14.5" font-weight="bold" textLength="49.2" lengthAdjust="spacingAndGlyphs">Median</text>
<text x="430.0" y="729.7" font-size="14.5" font-weight="bold" textLength="52.7" lengthAdjust="spacingAndGlyphs">Survival</text>
<line x1="428.2" y1="736.7" x2="491.2" y2="736.7" stroke="#000" stroke-width="1.9"/>
<line x1="325.1" y1="749.9" x2="353.5" y2="749.9" stroke="#000" stroke-width="2.1"/>
<circle cx="339.2" cy="749.9" r="5.7" fill="#000"/>
<text x="357.0" y="755.8" font-size="15.3" textLength="35.0" lengthAdjust="spacingAndGlyphs">35 µg</text>
<text x="435.8" y="753.5" font-size="15.3" textLength="44.6" lengthAdjust="spacingAndGlyphs">49 days</text>
<line x1="325.1" y1="770.9" x2="353.5" y2="770.9" stroke="#000" stroke-width="2.1"/>
<rect x="334.30" y="765.80" width="10.20" height="10.20" fill="none" stroke="#000" stroke-width="1.6"/>
<text x="357.0" y="776.6" font-size="15.3" textLength="39.5" lengthAdjust="spacingAndGlyphs">3.5 µg</text>
<text x="435.8" y="772.7" font-size="15.3" textLength="44.6" lengthAdjust="spacingAndGlyphs">42 days</text>
<line x1="325.1" y1="792.2" x2="353.5" y2="792.2" stroke="#000" stroke-width="2.1"/>
<polygon points="339.50,787.40 344.90,797.50 334.10,797.50" fill="#000"/>
<text x="357.0" y="797.3" font-size="15.3" textLength="47.8" lengthAdjust="spacingAndGlyphs">0.35 µg</text>
<text x="435.8" y="794.3" font-size="15.3" textLength="44.6" lengthAdjust="spacingAndGlyphs">42 days</text>
<line x1="325.1" y1="812.9" x2="353.5" y2="812.9" stroke="#000" stroke-width="2.1"/>
<polygon points="339.50,809.05 344.35,818.20 334.65,818.20" fill="#fff" stroke="#000" stroke-width="1.5" stroke-linejoin="miter"/>
<text x="357.0" y="818.1" font-size="15.3" textLength="56.9" lengthAdjust="spacingAndGlyphs">0.035 µg</text>
<text x="435.8" y="817.4" font-size="15.3" textLength="44.6" lengthAdjust="spacingAndGlyphs">34 days</text>
<line x1="325.1" y1="844.7" x2="353.5" y2="844.7" stroke="#000" stroke-width="2.1"/>
<path d="M333.50 844.70L345.50 844.70M336.11 841.31L342.89 848.09M339.50 838.70L339.50 850.70M342.89 841.31L336.11 848.09" stroke="#000" stroke-width="1.5" fill="none"/>
<text x="357.0" y="849.7" font-size="15.3" textLength="35.8" lengthAdjust="spacingAndGlyphs">Saline</text>
<text x="435.8" y="849.5" font-size="15.3" textLength="44.6" lengthAdjust="spacingAndGlyphs">28 days</text>
<text x="322.7" y="872.0" font-size="14.2" fill="#222" textLength="136.2" lengthAdjust="spacingAndGlyphs"><tspan font-style="italic">P</tspan>&lt;0.0001 for all treatments</text>
<text x="473.9" y="872.0" font-size="14.2" font-style="italic" textLength="12.0" lengthAdjust="spacingAndGlyphs" fill="#222">vs.</text>
<text x="492.8" y="872.0" font-size="14.2" textLength="27.0" lengthAdjust="spacingAndGlyphs" fill="#222">saline</text>
</svg></body></html>
